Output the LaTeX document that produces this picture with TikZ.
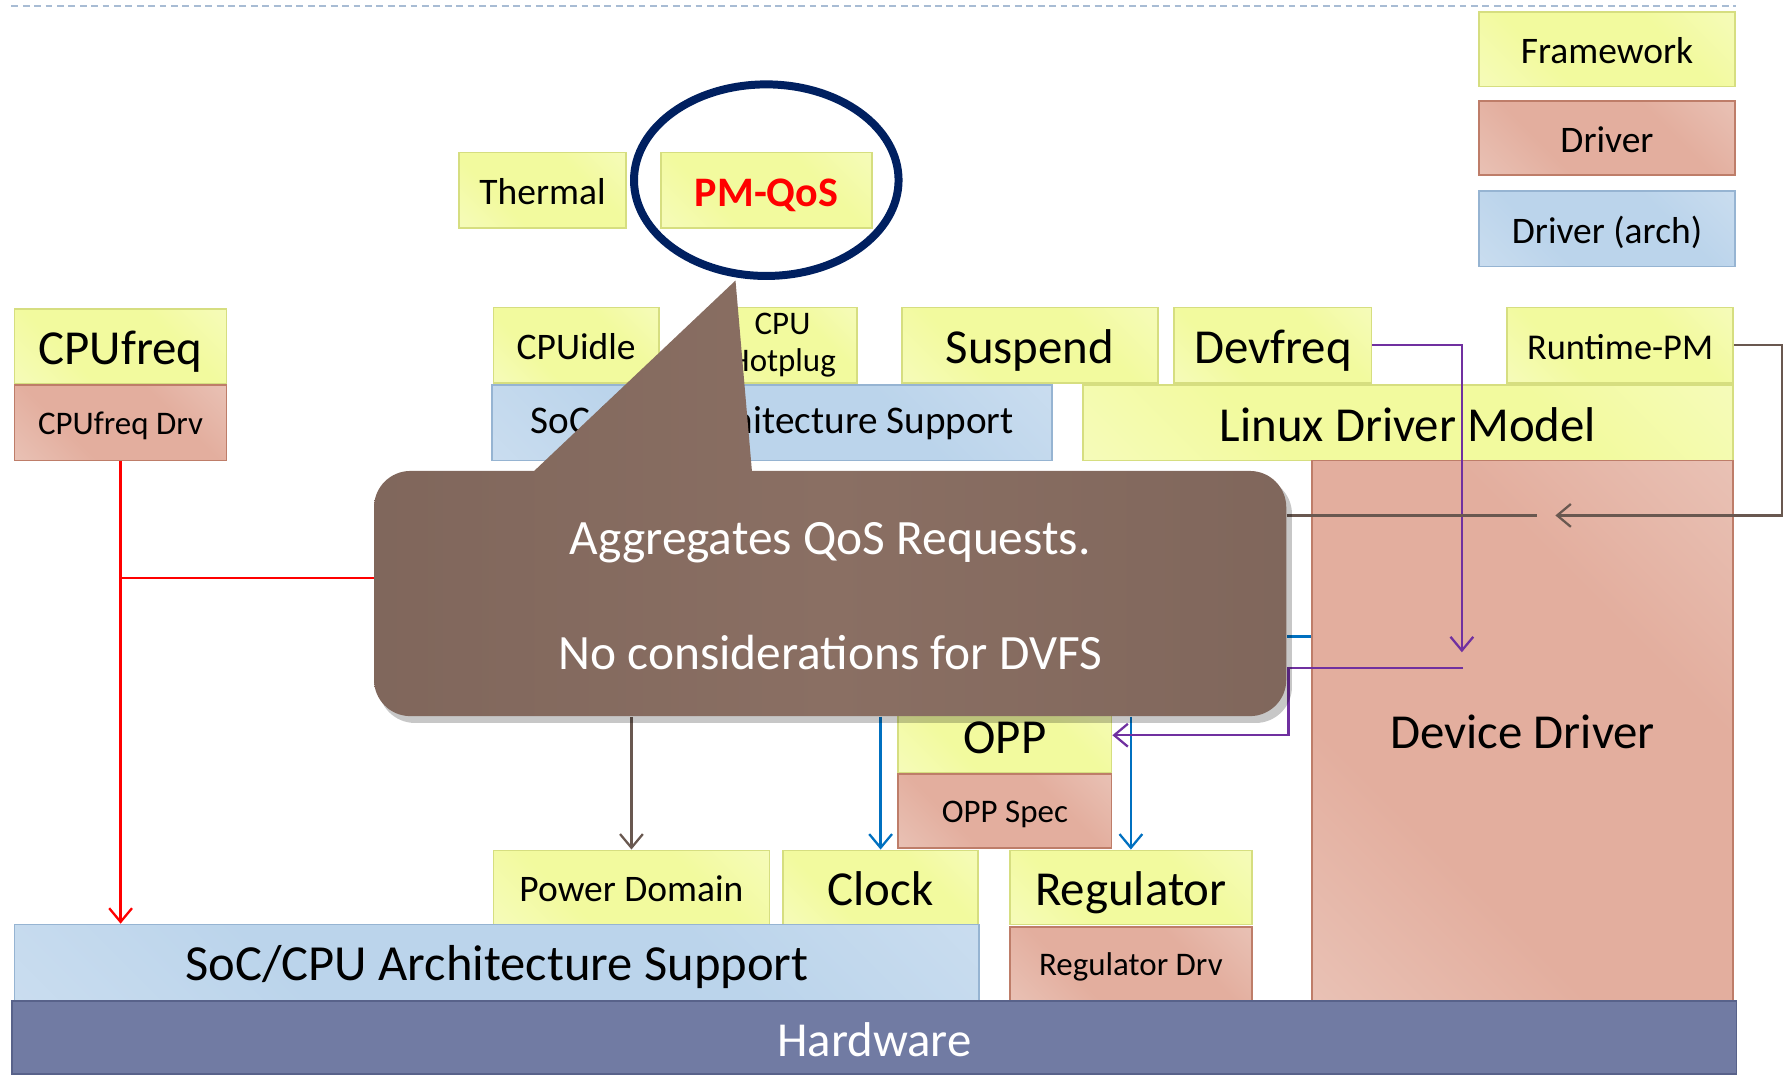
\documentclass[tikz,border=0pt]{standalone}
\usepackage{fontspec}
\setmainfont{Carlito}
\usetikzlibrary{arrows.meta,shapes.geometric}
\definecolor{yL}{RGB}{248,252,205}
\definecolor{yD}{RGB}{242,250,158}
\definecolor{yB}{RGB}{214,222,128}
\definecolor{pL}{RGB}{237,207,197}
\definecolor{pD}{RGB}{227,174,158}
\definecolor{pB}{RGB}{190,125,105}
\definecolor{bL}{RGB}{212,227,242}
\definecolor{bD}{RGB}{187,212,235}
\definecolor{bB}{RGB}{150,180,210}
\definecolor{hwF}{RGB}{113,123,163}
\definecolor{hwB}{RGB}{88,98,138}
\definecolor{cL}{RGB}{118,94,84}
\definecolor{cM}{RGB}{138,111,99}
\definecolor{navy}{RGB}{0,32,96}
\definecolor{purp}{RGB}{112,48,160}
\definecolor{blu}{RGB}{0,112,192}
\definecolor{brn}{RGB}{105,88,80}
\definecolor{dashc}{RGB}{168,188,212}
\pgfdeclarehorizontalshading{yshade}{100bp}{color(0bp)=(yL); color(35bp)=(yD); color(65bp)=(yD); color(100bp)=(yL)}
\pgfdeclarehorizontalshading{pshade}{100bp}{color(0bp)=(pL); color(35bp)=(pD); color(65bp)=(pD); color(100bp)=(pL)}
\pgfdeclarehorizontalshading{bshade}{100bp}{color(0bp)=(bL); color(35bp)=(bD); color(65bp)=(bD); color(100bp)=(bL)}
\pgfdeclarehorizontalshading{calsh}{100bp}{color(0bp)=(cL); color(50bp)=(cM); color(100bp)=(cL)}
\newcommand{\bx}[7]{\node[#1, minimum width={(#5-#3)*1bp}, minimum height={(#6-#4)*1bp}] (#2) at (#3,#4) {#7};}
\tikzset{
  base/.style={anchor=north west, inner sep=0pt, line width=1.5bp, text=black},
  fwk/.style={base, draw=yB, shade, shading=yshade, shading angle=45},
  drv/.style={base, draw=pB, shade, shading=pshade, shading angle=45},
  arch/.style={base, draw=bB, shade, shading=bshade, shading angle=45},
  big/.style={font=\fontsize{43}{48}\selectfont, text height=36bp, text depth=4bp},
  med/.style={font=\fontsize{33}{38}\selectfont, text height=29bp, text depth=4bp},
  sml/.style={font=\fontsize{29}{32}\selectfont, text height=24bp, text depth=4bp},
  smlf/.style={font=\fontsize{29}{32}\selectfont},
  ctext/.style={text=white, font=\fontsize{43.5}{48}\selectfont, text height=32bp, text depth=4bp, inner sep=0pt},
  conn/.style={line width=2bp, -{Straight Barb[length=12bp,width=20bp]}},
  plain/.style={line width=2bp}
}
\begin{document}
\begin{tikzpicture}[x=1bp,y=-1bp]
\useasboundingbox (0,0) rectangle (1568,943);
% top dashed rule
\coordinate (dl) at (10,5);
\coordinate (dr) at (1522,5);
\draw[dashc, line width=1.5bp, dash pattern=on 6bp off 4bp] (dl) -- (dr);
% legend
\bx{fwk,med}{lfw}{1296}{10}{1521}{75}{Framework}
\bx{drv,med}{ldr}{1296}{88}{1521}{153}{Driver}
\bx{arch,med}{lar}{1296}{167}{1521}{233}{Driver (arch)}
% top
\bx{fwk,med}{therm}{402}{133}{548}{199}{Thermal}
\bx{fwk,text height=32bp,text depth=4bp}{pmq}{579}{133}{764}{199}{\fontsize{37}{42}\selectfont\bfseries\color{red}PM-QoS}
% middle row
\bx{fwk,big}{cpuf}{12}{270}{198}{336}{CPUfreq}
\bx{drv,sml}{cfd}{12}{337}{198}{403}{CPUfreq Drv}
\bx{fwk,med}{cidle}{432}{269}{577}{335}{CPUidle}
\bx{fwk,smlf,align=center}{hot}{620}{269}{751}{335}{CPU\\Hotplug}
\bx{arch}{soct}{431}{337}{922}{403}{\fontsize{34.5}{38}\selectfont SoC/CPU Architecture Support}
\bx{fwk,big}{susp}{790}{269}{1015}{335}{Suspend}
\bx{fwk,big}{devf}{1029}{269}{1202}{335}{Devfreq}
\bx{fwk,med,font=\fontsize{32}{36}\selectfont}{rpm}{1321}{269}{1519}{335}{Runtime-PM}
\bx{fwk,big}{ldm}{949}{337}{1519}{403}{Linux Driver Model}
\bx{drv,big}{dd}{1150}{403}{1519}{877}{Device Driver}
% bottom
\bx{fwk,big}{opp}{787}{611}{974}{677}{OPP}
\bx{drv,sml}{opps}{787}{678}{974}{743}{OPP Spec}
\bx{fwk,med}{pd}{432}{745}{674}{810}{Power Domain}
\bx{fwk,big}{clk}{686}{745}{857}{810}{Clock}
\bx{fwk,big}{reg}{885}{745}{1097}{810}{Regulator}
\bx{drv,sml}{regd}{885}{812}{1097}{877}{Regulator Drv}
\bx{arch,big,font=\fontsize{44.5}{50}\selectfont}{socb}{12}{810}{858}{877}{SoC/CPU Architecture Support}
\node[anchor=north west, inner sep=0pt, minimum width=1512bp, minimum height=64bp, fill=hwF, draw=hwB, line width=1.5bp, text=white, font=\fontsize{43}{48}\selectfont, text height=38bp, text depth=4bp] (hw) at (10,877) {Hardware};
% callout anchor node (invisible)
\node[anchor=north west, inner sep=0pt, minimum width=800bp, minimum height=215bp] (cal) at (328,413) {};
% connectors
\coordinate (rj) at (105,507);
\draw[conn, red] (cfd.south) -- (cfd.south |- socb.north);
\draw[plain, red] (rj) -- (rj -| cal.west);
\draw[conn, brn] (pd.north |- cal.south) -- (pd.north);
\draw[conn, blu] (clk.north |- cal.south) -- (clk.north);
\draw[conn, blu] (reg.north |- cal.south) -- (reg.north);
\coordinate (bj) at (1150,558);
\draw[blu, line width=2.5bp] (bj) -- (bj -| cal.east);
\coordinate (pj) at (1282,572);
\draw[conn, purp] (devf.east) -| (pj);
\coordinate (pk) at (1283,586);
\draw[conn, purp] (pk) -- (1130,586) |- (opp.east);
\coordinate (rt) at (1364,452);
\draw[conn, brn] (rpm.east) -- ++(42,0) |- (rt);
\coordinate (rl) at (1348,452);
\draw[plain, brn] (rl -| cal.east) -- (rl);
% callout
\fill[black, opacity=0.22, rounded corners=32] (332,419) rectangle (1133,634);
\shade[shading=calsh, rounded corners=32] (328,413) rectangle (1128,628) [sharp corners] (660,420) -- (645,246) -- (461,420) -- cycle;
\node[ctext] (t1) at (728,472) {Aggregates QoS Requests.};
\node[ctext] (t2) at (728,573) {No considerations for DVFS};
% highlight ellipse
\node[draw=navy, line width=7bp, ellipse, minimum width=232bp, minimum height=168bp, inner sep=0pt] (hl) at (672,158) {};
\end{tikzpicture}
\end{document}
